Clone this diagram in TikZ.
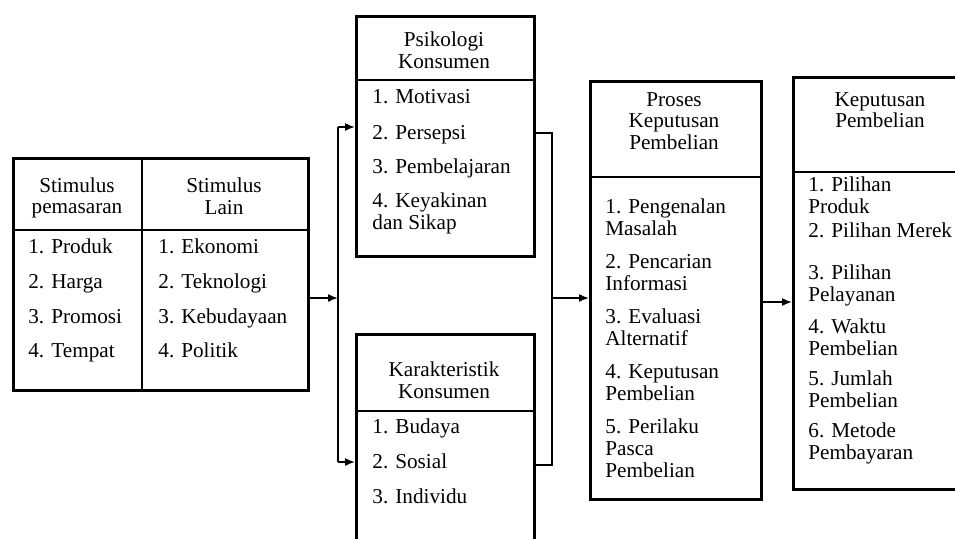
\documentclass[tikz,border=0pt]{standalone}
\usepackage{fontspec}
\setmainfont{Liberation Serif}
\usetikzlibrary{arrows.meta}

\tikzset{
    box/.style={draw, line width=1.3pt, anchor=north west, inner sep=0pt},
    divider/.style={line width=0.6pt},
    head/.style={align=center, inner sep=0pt},
    entry/.style={anchor=base west, align=left, inner sep=0pt},
    link/.style={line width=1.1pt},
    arr/.style={line width=0.8pt, -{Latex[length=5pt,width=4pt]}},
}

\begin{document}
\begin{tikzpicture}[x=0.5pt, y=-0.5pt, font=\fontsize{10.6}{10.8}\selectfont]
    \useasboundingbox (0,0) rectangle (955,538);
    \clip (0,0) rectangle (955,538);

    % Stimulus box (two columns)
    \node[box, minimum width=147.5pt, minimum height=116pt] (stim) at (12,157) {};
    \draw[line width=1.3pt] (142,157) -- (142,389);
    \draw[divider] (stim.west |- 0,230) -- (stim.east |- 0,230);
    \node[head] (stimA) at (77,198) {Stimulus\\pemasaran};
    \node[head] (stimB) at (224,196) {Stimulus\\Lain};
    \node[entry] (sp1) at (28,253) {1. Produk};
    \node[entry] (sp2) at (28,288) {2. Harga};
    \node[entry] (sp3) at (28,323) {3. Promosi};
    \node[entry] (sp4) at (28,357) {4. Tempat};
    \node[entry] (sl1) at (158,253) {1. Ekonomi};
    \node[entry] (sl2) at (158,288) {2. Teknologi};
    \node[entry] (sl3) at (158,323) {3. Kebudayaan};
    \node[entry] (sl4) at (158,357) {4. Politik};

    % Psikologi konsumen
    \node[box, minimum width=89pt, minimum height=120pt] (psi) at (355,15) {};
    \draw[divider] (psi.west |- 0,80) -- (psi.east |- 0,80);
    \node[head] (psiH) at (444,50) {Psikologi\\Konsumen};
    \node[entry] (ps1) at (372,103) {1. Motivasi};
    \node[entry] (ps2) at (372,139) {2. Persepsi};
    \node[entry] (ps3) at (372,173) {3. Pembelajaran};
    \node[entry] (ps4) at (372,229) {4. Keyakinan\\dan Sikap};

    % Karakteristik konsumen
    \node[box, minimum width=89pt, minimum height=125pt] (kar) at (355,333) {};
    \draw[divider] (kar.west |- 0,411) -- (kar.east |- 0,411);
    \node[head] (karH) at (444,380) {Karakteristik\\Konsumen};
    \node[entry] (ka1) at (372,433) {1. Budaya};
    \node[entry] (ka2) at (372,468) {2. Sosial};
    \node[entry] (ka3) at (372,503) {3. Individu};

    % Proses keputusan pembelian
    \node[box, minimum width=85.5pt, minimum height=209pt] (pro) at (589,80) {};
    \draw[divider] (pro.west |- 0,177) -- (pro.east |- 0,177);
    \node[head] (proH) at (674,121) {Proses\\Keputusan\\Pembelian};
    % (base of a two-line entry = its last line)
    \node[entry] (pr1) at (605,235) {1. Pengenalan\\Masalah};
    \node[entry] (pr2) at (605,290) {2. Pencarian\\Informasi};
    \node[entry] (pr3) at (605,345) {3. Evaluasi\\Alternatif};
    \node[entry] (pr4) at (605,400) {4. Keputusan\\Pembelian};
    \node[entry] (pr5) at (605,477) {5. Perilaku\\Pasca\\Pembelian};

    % Keputusan pembelian
    \node[box, minimum width=88pt, minimum height=206pt] (kep) at (792,76) {};
    \draw[divider] (kep.west |- 0,172) -- (kep.east |- 0,172);
    \node[head] (kepH) at (880,110) {Keputusan\\Pembelian};
    \node[entry] (kp1) at (808,213) {1. Pilihan\\Produk};
    \node[entry] (kp2) at (808,237) {2. Pilihan Merek};
    \node[entry] (kp3) at (808,301) {3. Pilihan\\Pelayanan};
    \node[entry] (kp4) at (808,355) {4. Waktu\\Pembelian};
    \node[entry] (kp5) at (808,407) {5. Jumlah\\Pembelian};
    \node[entry] (kp6) at (808,459) {6. Metode\\Pembayaran};

    % Connectors
    \coordinate (jl) at (338,298);
    \coordinate (jr) at (552,298);
    \draw[arr] (stim.east |- jl) -- (jl);
    \draw[link] (jl |- 0,127) -- (jl |- 0,462);
    \draw[arr] (jl |- 0,127) -- (psi.west |- 0,127);
    \draw[arr] (jl |- 0,462) -- (kar.west |- 0,462);
    \draw[link] (psi.east |- 0,133) -| (jr |- 0,465) -- (kar.east |- 0,465);
    \draw[arr] (jr) -- (pro.west |- jr);
    \draw[arr] (pro.east |- 0,302) -- (kep.west |- 0,302);
\end{tikzpicture}
\end{document}
